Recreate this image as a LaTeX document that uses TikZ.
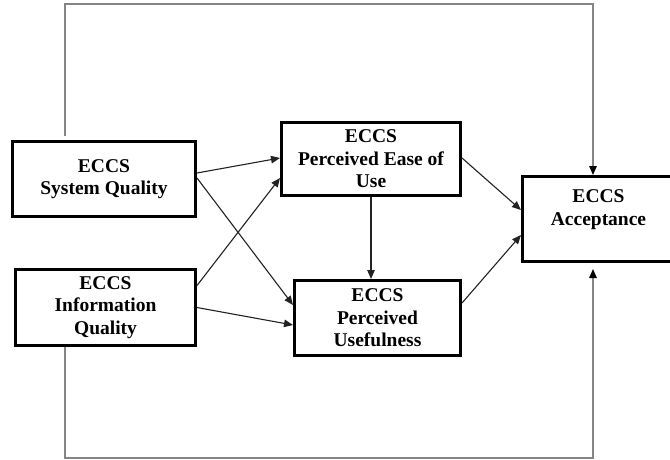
\documentclass[tikz,border=0pt]{standalone}
\usepackage{fontspec}
\setmainfont{Liberation Serif}
\usetikzlibrary{arrows.meta}
\definecolor{loopgray}{HTML}{858585}
\definecolor{arrowdark}{HTML}{222222}
\begin{document}
\begin{tikzpicture}[x=1pt,y=-1pt,
  box/.style={draw=black, line width=3pt, fill=white, inner sep=0pt, align=center,
    font=\fontsize{19.5}{22.5}\selectfont\bfseries},
  conn/.style={draw=arrowdark, line width=1.1pt, -{Triangle[length=9pt,width=7.5pt]}},
  looparrow/.style={draw=loopgray, line width=1.4pt, -{Triangle[length=9pt,width=7.5pt,color=black]}}
]
\useasboundingbox (0,0) rectangle (670,459);
\fill[white] (0,0) rectangle (670,459);

\node[box, minimum width=183pt, minimum height=75pt] (sq) at (104,179) {ECCS\\System Quality};
\node[box, minimum width=180pt, minimum height=76pt] (iq) at (105.5,307.5) {ECCS\\Information\\Quality};
\node[box, minimum width=179pt, minimum height=73pt] (peou) at (371,159) {ECCS\\Perceived Ease of\\Use};
\node[box, minimum width=166pt, minimum height=75pt] (pu) at (377.5,318) {ECCS\\Perceived\\Usefulness};
\node[box, minimum width=152pt, minimum height=85pt] (acc) at (598.5,219) {ECCS\\Acceptance\\\mbox{}};

\coordinate (top) at (0,4);
\coordinate (bottom) at (0,458);

% feedback loops
\draw[looparrow, shorten <=4pt] ([xshift=-39pt]sq.north) -- ([xshift=-39pt]sq.north |- top) -| ([xshift=-5.5pt]acc.north);
\draw[looparrow, shorten >=6pt] ([xshift=-40.5pt]iq.south) -- ([xshift=-40.5pt]iq.south |- bottom) -| ([xshift=-5.5pt]acc.south);

% arrows
\draw[conn] ([yshift=6pt]sq.east) -- ([yshift=1pt]peou.west);
\draw[conn] ([yshift=1pt]sq.east) -- ([yshift=13pt]pu.west);
\draw[conn] ([yshift=22pt]iq.east) -- ([yshift=-19pt]peou.west);
\draw[conn] (iq.east) -- ([yshift=-7pt]pu.west);
\draw[conn] ([yshift=1pt]peou.east) -- ([yshift=9pt]acc.west);
\draw[conn] ([yshift=15pt]pu.east) -- ([yshift=-16pt]acc.west);
\draw[conn] (peou.south) -- (peou.south |- pu.north);
\end{tikzpicture}
\end{document}
